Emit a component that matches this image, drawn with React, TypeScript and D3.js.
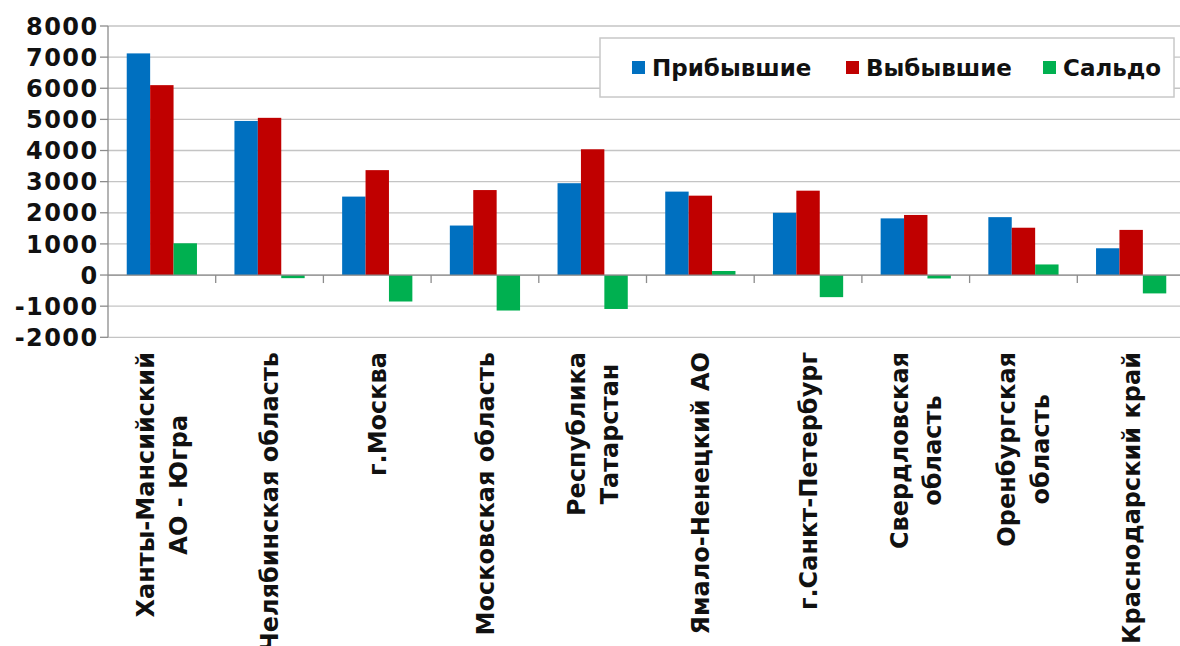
import React, { useEffect, useRef } from "react";
import * as d3 from "d3";

const categoryLabels: string[][] = [
  ["Ханты-Мансийский", "АО - Югра"],
  ["Челябинская область"],
  ["г.Москва"],
  ["Московская область"],
  ["Республика", "Татарстан"],
  ["Ямало-Ненецкий АО"],
  ["г.Санкт-Петербург"],
  ["Свердловская", "область"],
  ["Оренбургская", "область"],
  ["Краснодарский край"],
];
const categories = categoryLabels.map((l) => l.join(" "));

const seriesNames = ["Прибывшие", "Выбывшие", "Сальдо"];
const seriesColors = ["#0070C0", "#C00000", "#00B050"];

const arrived = [7120, 4950, 2520, 1590, 2950, 2680, 2000, 1820, 1860, 860];
const departed = [6100, 5050, 3370, 2730, 4040, 2550, 2710, 1930, 1520, 1450];
const balance = [1020, -100, -850, -1140, -1090, 130, -710, -110, 340, -590];

const yTicks = [-2000, -1000, 0, 1000, 2000, 3000, 4000, 5000, 6000, 7000, 8000];

const W = 1180;
const H = 646;
const FONT = "'DejaVu Sans', sans-serif";

export default function App() {
  const ref = useRef<SVGSVGElement>(null);

  useEffect(() => {
    const svg = d3.select(ref.current);
    svg.selectAll("*").remove();

    const left = 108;
    const right = 1185;
    const top = 26;
    const bottom = 337.3;

    const x = d3
      .scaleBand<string>()
      .domain(categories)
      .range([left, right])
      .paddingInner(0.348)
      .paddingOuter(0.174);
    const x1 = d3.scaleBand<string>().domain(seriesNames).range([0, x.bandwidth()]);
    const y = d3.scaleLinear().domain([-2000, 8000]).range([bottom, top]);
    const step = x.step();

    const g = svg.append("g");

    // gridlines
    g.selectAll("line.grid")
      .data(yTicks)
      .join("line")
      .attr("x1", left)
      .attr("x2", W)
      .attr("y1", (d) => y(d))
      .attr("y2", (d) => y(d))
      .attr("stroke", "#c4c4c4")
      .attr("stroke-width", 1.3);

    // y axis line and ticks
    g.append("line")
      .attr("x1", left)
      .attr("x2", left)
      .attr("y1", y(8000))
      .attr("y2", y(-2000))
      .attr("stroke", "#8c8c8c")
      .attr("stroke-width", 1.3);
    g.selectAll("line.ytick")
      .data(yTicks)
      .join("line")
      .attr("x1", left - 8)
      .attr("x2", left)
      .attr("y1", (d) => y(d))
      .attr("y2", (d) => y(d))
      .attr("stroke", "#8c8c8c")
      .attr("stroke-width", 1.3);

    g.selectAll("text.ylab")
      .data(yTicks)
      .join("text")
      .attr("x", 98.5)
      .attr("y", (d) => y(d))
      .attr("dy", "0.36em")
      .attr("text-anchor", "end")
      .attr("font-family", FONT)
      .attr("font-weight", "bold")
      .attr("font-size", 24)
      .attr("letter-spacing", "1.4px")
      .attr("fill", "#111")
      .text((d) => String(d));

    // bars
    const series = [arrived, departed, balance];
    series.forEach((vals, si) => {
      g.selectAll(`rect.s${si}`)
        .data(vals)
        .join("rect")
        .attr("x", (_, i) => (x(categories[i]) as number) + (x1(seriesNames[si]) as number))
        .attr("width", x1.bandwidth())
        .attr("y", (d) => y(Math.max(0, d)))
        .attr("height", (d) => Math.abs(y(d) - y(0)))
        .attr("fill", seriesColors[si]);
    });

    // zero axis
    g.append("line")
      .attr("x1", left)
      .attr("x2", W)
      .attr("y1", y(0))
      .attr("y2", y(0))
      .attr("stroke", "#8c8c8c")
      .attr("stroke-width", 1.3);
    g.selectAll("line.xtick")
      .data(d3.range(1, categories.length + 1))
      .join("line")
      .attr("x1", (i) => left + i * step)
      .attr("x2", (i) => left + i * step)
      .attr("y1", y(0))
      .attr("y2", y(0) + 8)
      .attr("stroke", "#8c8c8c")
      .attr("stroke-width", 1.3);

    // category labels (rotated)
    const labelTop = 352;
    const lineGap = 33.5;
    const labelSize = 24;
    categoryLabels.forEach((lines, i) => {
      const cx = (x(categories[i]) as number) + x.bandwidth() / 2;
      const widths = lines.map((ln) => {
        const t = g
          .append("text")
          .attr("font-family", FONT)
          .attr("font-weight", "bold")
          .attr("font-size", labelSize)
          .text(ln);
        const w = (t.node() as SVGTextElement).getComputedTextLength();
        t.remove();
        return w;
      });
      const maxW = Math.max(...widths);
      const centerY = labelTop + maxW / 2;
      lines.forEach((ln, li) => {
        const off = (li - (lines.length - 1) / 2) * lineGap;
        g.append("text")
          .attr("transform", `translate(${cx + off},${centerY}) rotate(-90)`)
          .attr("text-anchor", "middle")
          .attr("dy", "0.36em")
          .attr("font-family", FONT)
          .attr("font-weight", "bold")
          .attr("font-size", labelSize)
          .attr("fill", "#111")
          .text(ln);
      });
    });

    // legend
    const lg = svg.append("g");
    lg.append("rect")
      .attr("x", 600)
      .attr("y", 38)
      .attr("width", 574)
      .attr("height", 59)
      .attr("fill", "#fff")
      .attr("stroke", "#c8c8c8")
      .attr("stroke-width", 1.5);
    const legendX = [632, 846, 1043];
    seriesNames.forEach((name, si) => {
      lg.append("rect")
        .attr("x", legendX[si])
        .attr("y", 61)
        .attr("width", 13)
        .attr("height", 13)
        .attr("fill", seriesColors[si]);
      lg.append("text")
        .attr("x", legendX[si] + 20)
        .attr("y", 67.5)
        .attr("dy", "0.36em")
        .attr("font-family", FONT)
        .attr("font-weight", "bold")
        .attr("font-size", 23)
        .attr("fill", "#111")
        .text(name);
    });
  }, []);

  return (
    <svg
      ref={ref}
      width={W}
      height={H}
      style={{ position: "absolute", left: 0, top: 0, background: "#fff" }}
    />
  );
}
